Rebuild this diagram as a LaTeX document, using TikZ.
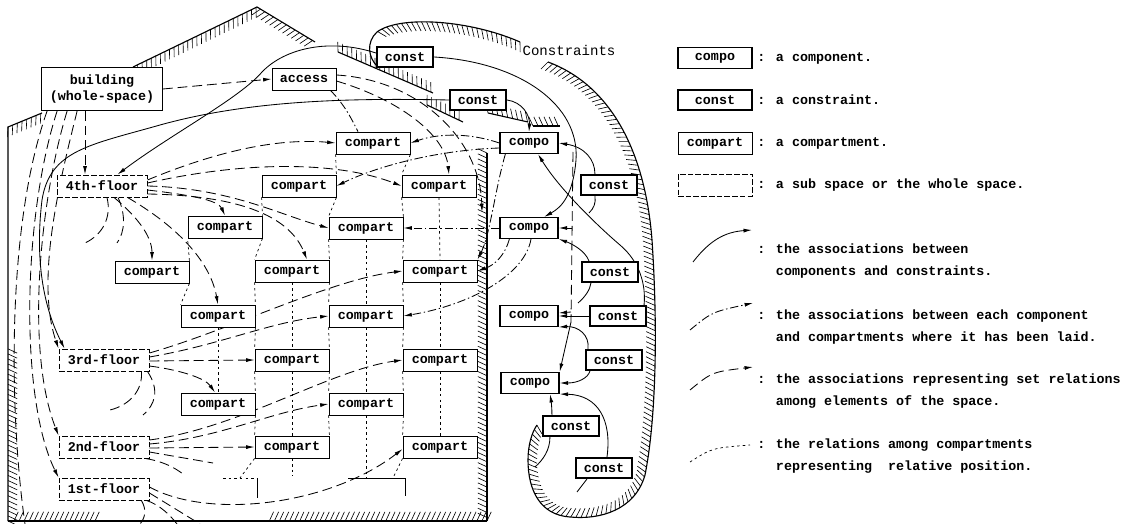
\documentclass[tikz,border=0pt]{standalone}
\usepackage{fontspec}
\setmainfont{Liberation Mono}
\usetikzlibrary{arrows.meta,calc,decorations.markings}
\pgfdeclarelayer{background}
\pgfsetlayers{background,main}
\begin{document}
\begin{tikzpicture}[x=0.025cm,y=-0.025cm,
  lbl/.style={font=\fontsize{9.5}{11}\selectfont\bfseries},
  box/.style={draw, fill=white, line width=0.6pt, inner sep=0pt, minimum height=0.55cm, lbl},
  compart/.style={box, minimum width=1.85cm},
  compo/.style={box, line width=0.9pt, minimum width=1.45cm, minimum height=0.52cm},
  const/.style={box, line width=1.5pt, minimum width=1.4cm, minimum height=0.5cm},
  space/.style={box, dash pattern=on 4pt off 1.5pt, minimum width=2.25cm},
  legtext/.style={anchor=west, align=left, inner sep=0pt, font=\fontsize{9.5}{15.6}\selectfont\bfseries},
  arr/.style={-{Latex[length=6pt,width=2.8pt]}},
  setrel/.style={line width=0.6pt, dash pattern=on 7pt off 3.5pt},
  laid/.style={line width=0.6pt, dash pattern=on 6pt off 2pt on 1pt off 2pt},
  relpos/.style={line width=0.5pt, dash pattern=on 1.8pt off 2.2pt},
  assoc/.style={line width=0.6pt},
  boundary/.style={draw, line width=0.8pt},
  ticksR/.style={postaction={decorate,decoration={markings,mark=between positions 0 and 1 step 3.6pt with {\draw[line width=0.45pt,solid] (0pt,0pt) -- (-3pt,-6.5pt);}}}},
  ticksL/.style={postaction={decorate,decoration={markings,mark=between positions 0 and 1 step 3.6pt with {\draw[line width=0.45pt,solid] (0pt,0pt) -- (-3pt,6.5pt);}}}}
]
\useasboundingbox (0,0) rectangle (1131,524);

% ---------------- nodes ----------------
\node[box, minimum width=3.02cm, minimum height=1.07cm, align=center, font=\fontsize{9.5}{12}\selectfont\bfseries] (bld) at (102,89) {building\\(whole-space)};
\node[box, minimum width=1.6cm] (acc) at (304,79) {access};
\node[const] (k1) at (405,57) {const};
\node[const] (k2) at (478,100) {const};
\node[compo] (c1) at (529,143) {compo};
\node[compart] (p0) at (373,143) {compart};
\node[space] (f4) at (102,186) {4th-floor};
\node[compart] (p41) at (299,186) {compart};
\node[compart] (p42) at (439,186) {compart};
\node[const] (k3) at (609,185) {const};
\node[compart] (p43) at (225,227) {compart};
\node[compart] (p44) at (366,228) {compart};
\node[compo] (c2) at (529,228) {compo};
\node[compart] (p5) at (152,272) {compart};
\node[compart] (p31) at (292,271) {compart};
\node[compart] (p32) at (440,271) {compart};
\node[const] (k4) at (610,272) {const};
\node[compart] (p33) at (218,316) {compart};
\node[compart] (p34) at (366,316) {compart};
\node[compo] (c3) at (529,316) {compo};
\node[const] (k5) at (618,316) {const};
\node[space] (f3) at (104,360) {3rd-floor};
\node[compart] (p21) at (292,360) {compart};
\node[compart] (p22) at (440,360) {compart};
\node[const] (k6) at (614,360) {const};
\node[compart] (p23) at (218,404) {compart};
\node[compart] (p24) at (366,404) {compart};
\node[compo] (c4) at (530,383) {compo};
\node[space] (f2) at (104,447) {2nd-floor};
\node[compart] (p11) at (292,447) {compart};
\node[compart] (p12) at (440,447) {compart};
\node[const] (k7) at (571,426) {const};
\node[space] (f1) at (104,489) {1st-floor};
\node[const] (k8) at (604,468) {const};
\node[inner sep=0pt, font=\fontsize{10}{11}\selectfont] (lab) at (569,50) {Constraints};

% free ends
\coordinate (d0) at (25,524);
\coordinate (d1) at (85,243);
\coordinate (d2) at (117,243);
\coordinate (d3) at (110,410);
\coordinate (d4) at (143,415);
\coordinate (d5) at (213,463);
\coordinate (d6) at (183,474);
\coordinate (d7) at (200,524);
\coordinate (d8) at (177,524);
\coordinate (d9) at (140,524);
\coordinate (a1) at (482,212);
\coordinate (s1) at (589,213);
\coordinate (s2) at (578,303);
\coordinate (s3) at (535,467);
\coordinate (s4) at (577,492);
\coordinate (v1) at (573,152);
\coordinate (v2) at (571,322);
\coordinate (v3) at (572,228);
\coordinate (v4) at (571,312);
\coordinate (o1a) at (223,478);
\coordinate (o1b) at (257,478);
\coordinate (o1c) at (257,498);
\coordinate (o2a) at (348,478);
\coordinate (o2b) at (405,478);
\coordinate (o2c) at (405,496);
\coordinate (o2m) at (366,478);
\coordinate (q1) at (292,476);
\coordinate (q2) at (240,478);
\coordinate (q3) at (393,478);

% ---------------- legend ----------------
\node[compo, minimum width=1.85cm] (lc1) at (715,58) {compo};
\node[const, minimum width=1.85cm] (lc2) at (715,100) {const};
\node[compart, minimum width=1.85cm] (lc3) at (715,143) {compart};
\node[space, minimum width=1.85cm] (lc4) at (715,185) {};
\node[legtext] (t1) at (757,58) {: a component.};
\node[legtext] (t2) at (757,100) {: a constraint.};
\node[legtext] (t3) at (757,143) {: a compartment.};
\node[legtext] (t4) at (757,185) {: a sub space or the whole space.};
\coordinate (la1) at (693,262); \coordinate (la2) at (752,230);
\coordinate (lb1) at (690,330); \coordinate (lb2) at (753,303);
\coordinate (lc1a) at (690,390); \coordinate (lc2a) at (753,367);
\coordinate (ld1) at (690,462); \coordinate (ld2) at (750,445);
\node[legtext] (t5) at (757,261) {: the associations between\\\phantom{: }components and constraints.};
\node[legtext] (t6) at (757,327) {: the associations between each component\\\phantom{: }and compartments where it has been laid.};
\node[legtext] (t7) at (757,391) {: the associations representing set relations\\\phantom{: }among elements of the space.};
\node[legtext] (t8) at (757,456) {: the relations among compartments\\\phantom{: }representing\ \ relative position.};

\begin{pgfonlayer}{background}
\draw[assoc,arr] (la1) .. controls (710,240) and (725,232) .. (la2);
\draw[laid,arr] (lb1) .. controls (712,312) .. (lb2);
\draw[setrel,arr] (lc1a) .. controls (712,372) .. (lc2a);
\draw[relpos] (ld1) .. controls (712,448) .. (ld2);

% ---------------- boundaries ----------------
\draw[boundary] (8,521) -- (8,127) -- (42,113);
\path[ticksR] (8,521) -- (8,345);
\path[ticksR] (8,127) -- (42,113);
\draw[boundary,ticksR] (133,67) -- (257,7) -- (315,42);
\draw[boundary,ticksR] (487,153) -- (487,521);
\draw[boundary] (487,521) -- (8,521);
\path[ticksR] (487,521) -- (268,521);
\path[ticksR] (95,521) -- (12,521);
% constraints region
\draw[boundary,ticksL] (520,42) .. controls (470,20) and (400,15) .. (377,32);
\draw[boundary] (377,32) .. controls (366,42) and (368,58) .. (378,67);
\draw[boundary,ticksL] (338,52) -- (433,93);
\draw[boundary,ticksL] (427,105) -- (463,122);
\draw[boundary,ticksL] (488,113) -- (528,122);
\draw[boundary,ticksL] (533,126) -- (560,126);
\draw[boundary,ticksR] (548,62) .. controls (610,85) and (645,150) .. (652,240) .. controls (658,330) and (656,420) .. (645,475) .. controls (635,510) and (600,520) .. (570,517) .. controls (540,515) and (528,490) .. (528,460) .. controls (528,445) and (532,432) .. (537,425);

% ---------------- set relations (dashed) ----------------
\draw[setrel,arr] (bld.east) -- (acc.west);
\draw[setrel,arr] ($(bld.south)+(-17,0)$) -- ($(f4.north)+(-17,0)$);
\draw[setrel,arr] ($(bld.south west)+(36,0)$) .. controls (60,180) and (35,280) .. (f3.north west);
\draw[setrel,arr] ($(bld.south west)+(26,0)$) .. controls (40,200) and (25,350) .. (f2.north west);
\draw[setrel,arr] ($(bld.south west)+(16,0)$) .. controls (22,220) and (20,400) .. (f1.north west);
\draw[setrel] ($(bld.south west)+(6,0)$) .. controls (5,230) and (10,420) .. (d0);

\draw[setrel,arr] ($(f4.east)+(0,-6)$) .. controls (220,150) and (280,138) .. (p0.west);
\draw[setrel,arr] ($(f4.east)+(0,-3)$) .. controls (250,160) and (340,162) .. (p42.west);
\draw[setrel,arr] (f4.east) .. controls (230,188) and (280,215) .. (p44.west);
\draw[setrel,arr] ($(f4.east)+(0,4)$) .. controls (190,195) and (218,200) .. (p43.north);
\draw[setrel,arr] ($(f4.east)+(0,8)$) .. controls (210,195) and (285,205) .. ($(p31.north)+(15,0)$);
\draw[setrel,arr] ($(f4.south)+(12,0)$) .. controls (135,215) and (152,235) .. (p5.north);
\draw[setrel,arr] ($(f4.south east)+(-20,0)$) .. controls (175,225) and (210,260) .. (p33.north);
\draw[setrel] ($(f4.south)+(5,0)$) .. controls (112,218) and (102,235) .. (d1);
\draw[setrel] ($(f4.south)+(16,0)$) .. controls (126,215) and (125,232) .. (d2);

\draw[setrel,arr] ($(f3.east)+(0,-7)$) .. controls (230,330) and (330,280) .. (p32.west);
\draw[setrel,arr] ($(f3.east)+(0,-3)$) .. controls (220,345) and (270,322) .. (p34.west);
\draw[setrel,arr] ($(f3.east)+(0,1)$) -- (p21.west);
\draw[setrel,arr] ($(f3.east)+(0,6)$) .. controls (180,370) and (205,378) .. ($(p23.north)+(-3,0)$);
\draw[setrel] ($(f3.south east)+(-8,0)$) .. controls (143,390) and (130,405) .. (d3);
\draw[setrel] ($(f3.south east)+(-2,0)$) .. controls (160,390) and (155,405) .. (d4);

\draw[setrel,arr] ($(f2.east)+(0,-7)$) .. controls (240,428) and (330,370) .. (p22.west);
\draw[setrel,arr] ($(f2.east)+(0,-3)$) .. controls (220,438) and (270,412) .. (p24.west);
\draw[setrel,arr] ($(f2.east)+(0,1)$) -- (p11.west);
\draw[setrel] ($(f2.east)+(0,5)$) -- (d5);
\draw[setrel] ($(f2.south east)+(-4,0)$) .. controls (165,462) and (175,468) .. (d6);

\draw[setrel,arr] ($(f1.east)+(0,-2)$) .. controls (210,520) and (330,505) .. ($(p12.west)+(0,2)$);
\draw[setrel] ($(f1.east)+(0,4)$) -- (d7);
\draw[setrel] ($(f1.south east)+(-3,0)$) .. controls (160,505) and (170,515) .. (d8);
\draw[setrel] ($(f1.south east)+(-8,0)$) .. controls (147,510) and (145,518) .. (d9);

\draw[laid] ($(acc.south east)+(-6,0)$) .. controls (345,105) and (352,120) .. ($(p0.north)+(-15,0)$);
\draw[setrel,arr] ($(acc.east)+(0,2)$) .. controls (400,100) and (445,135) .. ($(p42.north)+(10,0)$);
\draw[setrel,arr] ($(acc.east)+(0,-4)$) .. controls (420,80) and (480,140) .. (a1);

% ---------------- laid (dash-dot) ----------------
\draw[laid,arr] (c1.west) .. controls (470,133) and (440,133) .. (p0.east);
\draw[laid,arr] ($(c1.west)+(0,5)$) .. controls (440,150) and (380,165) .. (p41.east);
\draw[laid,arr] ($(c1.south west)+(6,0)$) .. controls (495,190) and (490,235) .. (p32.north east);
\draw[laid,arr] (c2.west) -- (p44.east);
\draw[laid,arr] ($(c2.south west)+(10,0)$) .. controls (505,255) and (495,265) .. (p32.east);
\draw[laid,arr] ($(c2.south)+(2,0)$) .. controls (525,275) and (470,305) .. (p34.east);

% ---------------- relative position (dotted) ----------------
\draw[relpos] (p0.south west) -- (p41.north east);
\draw[relpos] (p0.south east) -- (p42.north west);
\draw[relpos] (p41.south west) -- (p43.north east);
\draw[relpos] (p41.south east) -- (p44.north west);
\draw[relpos] (p42.south west) -- (p44.north east);
\draw[relpos] (p42.south) -- (p32.north);
\draw[relpos] (p44.south) -- (p34.north);
\draw[relpos] (p43.south east) -- (p31.north west);
\draw[relpos] (p44.south west) -- (p31.north east);
\draw[relpos] (p44.south east) -- (p32.north west);
\draw[relpos] (p5.north east) -- (p43.south west);
\draw[relpos] (p5.south east) -- (p33.north west);
\draw[relpos] (p31.south west) -- (p33.north east);
\draw[relpos] (p31.south east) -- (p34.north west);
\draw[relpos] (p32.south west) -- (p34.north east);
\draw[relpos] (p31.south) -- (p21.north);
\draw[relpos] (p32.south) -- (p22.north);
\draw[relpos] (p33.south) -- (p23.north);
\draw[relpos] (p34.south) -- (p24.north);
\draw[relpos] (p33.south east) -- (p21.north west);
\draw[relpos] (p34.south west) -- (p21.north east);
\draw[relpos] (p34.south east) -- (p22.north west);
\draw[relpos] (p21.south west) -- (p23.north east);
\draw[relpos] (p21.south east) -- (p24.north west);
\draw[relpos] (p22.south west) -- (p24.north east);
\draw[relpos] (p21.south) -- (p11.north);
\draw[relpos] (p22.south) -- (p12.north);
\draw[relpos] (p23.south east) -- (p11.north west);
\draw[relpos] (p24.south west) -- (p11.north east);
\draw[relpos] (p24.south east) -- (p12.north west);
\draw[relpos] (p24.south) -- (o2m);
\draw[relpos] (p11.south) -- (q1);
\draw[relpos] (p11.south west) -- (q2);
\draw[relpos] (p12.south west) -- (q3);
\draw[relpos] (o1a) -- (o1b);
\draw[line width=0.6pt] (o1b) -- (o1c);
\draw[line width=0.6pt] (o2a) -- (o2b) -- (o2c);

% ---------------- constraint associations (solid) ----------------
\draw[assoc,arr] ($(k1.west)+(0,-4)$) .. controls (330,38) and (285,48) .. (262,72) .. controls (240,98) and (170,135) .. ($(f4.north east)+(-30,0)$);
\draw[assoc,arr] (k2.west) .. controls (350,98) and (250,100) .. (160,125) .. controls (90,145) and (50,150) .. (42,200) .. controls (36,250) and (40,300) .. ($(f3.north west)+(6,0)$);
\draw[assoc,arr] (k1.east) .. controls (520,62) and (580,105) .. (576,160) .. controls (573,195) and (562,207) .. ($(c2.north)+(15,0)$);
\draw[assoc,arr] (k2.east) .. controls (522,102) and (530,115) .. (c1.north);
\draw[assoc,arr] ($(k3.north west)+(15,0)$) .. controls (595,160) and (585,147) .. (c1.east);
\draw[assoc] ($(k3.south west)+(15,0)$) .. controls (596,203) and (594,208) .. (s1);
\draw[assoc,arr] ($(k4.north west)+(8,0)$) .. controls (585,250) and (570,243) .. (c2.south east);
\draw[assoc] ($(k4.south west)+(10,0)$) .. controls (590,290) and (585,297) .. (s2);
\draw[assoc,arr] (k5.west) -- (c3.east);
\draw[assoc,arr] ($(k5.north east)+(-3,0)$) .. controls (646,285) and (640,262) .. (620,245) .. controls (600,228) and (560,190) .. ($(c1.south)+(9,0)$);
\draw[assoc,arr] ($(k6.north west)+(3,0)$) .. controls (590,335) and (578,326) .. (c3.south east);
\draw[assoc,arr] ($(k6.south west)+(5,0)$) .. controls (588,378) and (578,383) .. (c4.east);
\draw[setrel] (v1) -- (v2);
\draw[assoc,arr] (v2) -- (c4.north east);
\draw[assoc,arr] (v3) -- (c2.east);
\draw[assoc,arr] (v4) -- ($(c3.east)+(0,-3)$);
\draw[assoc,arr] ($(k7.north west)+(10,0)$) .. controls (552,408) and (551,400) .. ($(c4.south)+(20,0)$);
\draw[assoc] ($(k7.south west)+(8,0)$) .. controls (550,450) and (543,460) .. (s3);
\draw[assoc,arr] ($(k8.north)+(3,0)$) .. controls (612,420) and (598,395) .. (c4.south east);
\draw[assoc] ($(k8.south west)+(12,0)$) -- (s4);
\end{pgfonlayer}
\end{tikzpicture}
\end{document}
